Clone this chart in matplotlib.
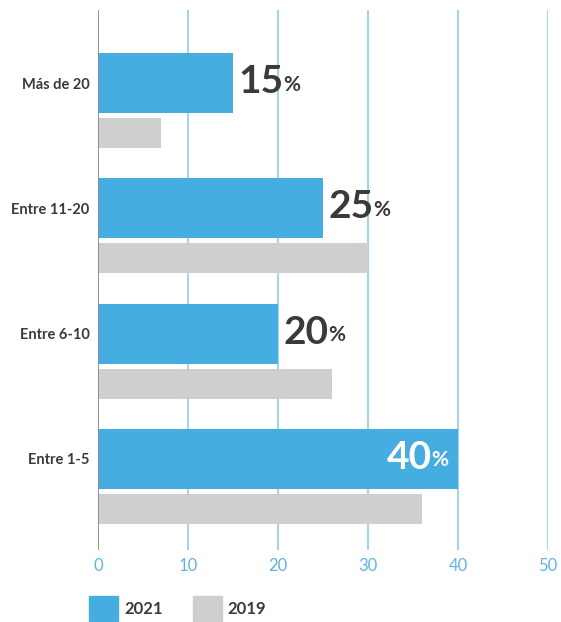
import matplotlib
matplotlib.use("Agg")
import matplotlib.pyplot as plt
from matplotlib.patches import Patch
import numpy as np

categories = ["Más de 20", "Entre 11-20", "Entre 6-10", "Entre 1-5"]
values_2021 = [15, 25, 20, 40]
values_2019 = [7, 30, 26, 36]
series_labels = ["2021", "2019"]
xticks = [0, 10, 20, 30, 40, 50]

BLUE = "#46ade1"
GRAY = "#cfcfcf"
GRID = "#a3d5ef"
DARK = "#3a3a3a"
TICK = "#5db5e2"

plt.rcParams['font.family'] = ['Lato', 'DejaVu Sans']

fig = plt.figure(figsize=(5.61, 6.22), dpi=100)
W, H = 561, 622
ax = fig.add_axes([98 / W, 1 - 550 / H, 450 / W, 540 / H])

y = np.arange(len(categories))
ax.barh(y, values_2021, height=0.48, color=BLUE, zorder=2, label=series_labels[0])
ax.barh(y + 0.4, values_2019, height=0.24, color=GRAY, zorder=2, label=series_labels[1])

ax.set_xlim(0, 50)
ax.set_ylim(3 + 91 / 125, -73 / 125)

for xv in xticks[1:]:
    ax.axvline(xv, color=GRID, lw=1.5, zorder=1)
ax.axvline(0, color="#8a8a8a", lw=1.3, zorder=3)

for s in ax.spines.values():
    s.set_visible(False)

ax.set_xticks(xticks)
ax.set_xticklabels([str(t) for t in xticks], color=TICK, fontsize=12)
ax.tick_params(axis='x', length=0, pad=6)
ax.set_yticks(y)
ax.set_yticklabels(categories, fontsize=10.5, fontweight='bold', color=DARK)
ax.tick_params(axis='y', length=0, pad=6)

NUM = 28
PCT = 15
for i, v in enumerate(values_2021):
    if v >= 35:
        pct = ax.annotate("%", (v, i), xytext=(-7, -1), textcoords='offset points',
                          ha='right', va='center', fontsize=PCT, fontweight='bold',
                          color='white')
        ax.annotate(str(v), xy=(0, 0.5), xycoords=pct, xytext=(0.5, 2),
                    textcoords='offset points', ha='right', va='center',
                    fontsize=NUM, fontweight='bold', color='white')
    else:
        num = ax.annotate(str(v), (v, i), xytext=(4, 1), textcoords='offset points',
                          ha='left', va='center', fontsize=NUM, fontweight='bold',
                          color=DARK)
        ax.annotate("%", xy=(1, 0.5), xycoords=num, xytext=(-0.5, -2),
                    textcoords='offset points', ha='left', va='center',
                    fontsize=PCT, fontweight='bold', color=DARK)

handles = [Patch(color=BLUE, label=series_labels[0]), Patch(color=GRAY, label=series_labels[1])]
fig.legend(handles=handles, loc='lower left', bbox_to_anchor=(74 / W, -14 / H),
           ncol=2, frameon=False, handlelength=1.75, handleheight=1.9,
           columnspacing=1.8, handletextpad=0.35, prop={'weight': 'bold', 'size': 12})
for txt in fig.legends[0].get_texts():
    txt.set_color(DARK)

fig.savefig("out.png", dpi=100)
